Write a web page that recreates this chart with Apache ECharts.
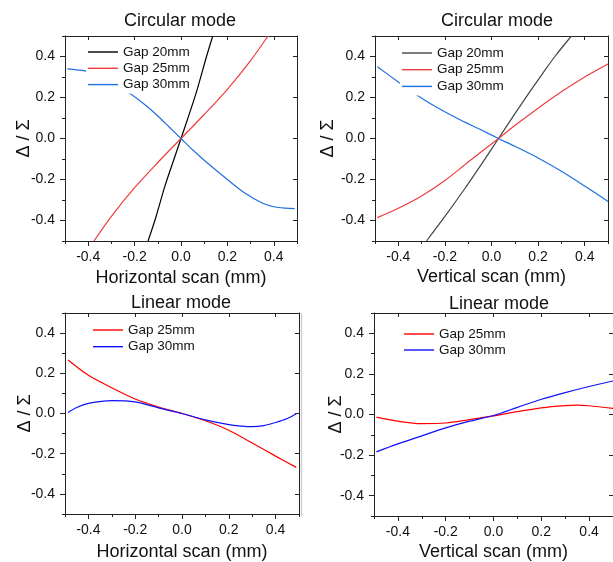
<!DOCTYPE html>
<html>
<head>
<meta charset="utf-8">
<script src="https://cdn.jsdelivr.net/npm/echarts@6/dist/echarts.min.js"></script>
<style>
html,body{margin:0;padding:0;background:#fff;}
#chart{width:613px;height:562px;}
</style>
</head>
<body>
<div id="chart"></div>
<script>
// ---- tick values ----
const majorTicks = [-0.4, -0.2, 0, 0.2, 0.4];
const minorTicks = [-0.5, -0.3, -0.1, 0.1, 0.3, 0.5];

// ---- Circular mode, horizontal scan ----
const circH_gap20 = [[-0.142,-0.5],[-0.11,-0.39],[-0.07,-0.235],[-0.03,-0.1],[0,0],[0.03,0.1],[0.07,0.24],[0.11,0.4],[0.137,0.5]];
const circH_gap25 = [[-0.375,-0.5],[-0.3,-0.38],[-0.2,-0.24],[-0.1,-0.117],[0,0],[0.1,0.117],[0.2,0.24],[0.3,0.38],[0.375,0.5]];
const circH_gap30 = [[-0.49,0.34],[-0.45,0.335],[-0.414,0.33],[-0.35,0.3],[-0.3,0.27],[-0.231,0.228],[-0.15,0.16],[-0.1,0.11],[-0.05,0.055],[0,0],[0.05,-0.055],[0.1,-0.106],[0.2,-0.2],[0.28,-0.27],[0.35,-0.315],[0.4,-0.333],[0.45,-0.34],[0.49,-0.342]];

// ---- Circular mode, vertical scan ----
const circV_gap20 = [[-0.279,-0.5],[-0.2,-0.38],[-0.115,-0.245],[-0.04,-0.12],[0.03,0],[0.1,0.12],[0.167,0.232],[0.22,0.318],[0.272,0.4],[0.343,0.5]];
const circV_gap25 = [[-0.49,-0.386],[-0.4,-0.34],[-0.3,-0.28],[-0.2,-0.205],[-0.1,-0.115],[0.03,0],[0.1,0.063],[0.2,0.148],[0.3,0.228],[0.4,0.3],[0.5,0.363]];
const circV_gap30 = [[-0.49,0.35],[-0.4,0.276],[-0.33,0.22],[-0.25,0.162],[-0.15,0.1],[-0.05,0.045],[0.03,0],[0.1,-0.038],[0.2,-0.095],[0.3,-0.16],[0.4,-0.232],[0.5,-0.307]];

// ---- Linear mode, horizontal scan ----
const linH_gap25 = [[-0.487,0.266],[-0.4,0.19],[-0.3,0.128],[-0.2,0.072],[-0.1,0.032],[0,0],[0.1,-0.036],[0.2,-0.083],[0.3,-0.147],[0.4,-0.212],[0.488,-0.268]];
const linH_gap30 = [[-0.487,0.005],[-0.45,0.03],[-0.4,0.05],[-0.3,0.064],[-0.2,0.058],[-0.1,0.028],[0,0],[0.1,-0.032],[0.2,-0.055],[0.3,-0.065],[0.35,-0.06],[0.4,-0.045],[0.45,-0.025],[0.49,0]];

// ---- Linear mode, vertical scan ----
const linV_gap25 = [[-0.49,-0.013],[-0.4,-0.033],[-0.3,-0.045],[-0.2,-0.042],[-0.1,-0.025],[0,-0.007],[0.1,0.014],[0.2,0.033],[0.3,0.044],[0.35,0.046],[0.4,0.043],[0.5,0.03]];
const linV_gap30 = [[-0.49,-0.184],[-0.4,-0.145],[-0.3,-0.105],[-0.2,-0.066],[-0.1,-0.033],[0,-0.005],[0.1,0.035],[0.2,0.075],[0.3,0.108],[0.4,0.138],[0.5,0.165]];

const FONT = "'Liberation Sans', Arial, sans-serif";
const AXIS_COLOR = '#222';

const panels = [
  { title:'Circular mode', xName:'Horizontal scan (mm)', grid:{left:65, top:36, width:232, height:205},
    titleX:180, titleY:12, xNameGap:28, yNameGap:31.5,
    legend:{left:86, top:43, gap:2.3},
    series:[['Gap 20mm', circH_gap20, '#000000'], ['Gap 25mm', circH_gap25, '#f03c3c'], ['Gap 30mm', circH_gap30, '#1f70e0']] },
  { title:'Circular mode', xName:'Vertical scan (mm)', grid:{left:375, top:36, width:233, height:205},
    titleX:497, titleY:12, xNameGap:27, yNameGap:38,
    legend:{left:400, top:44, gap:2.7},
    series:[['Gap 20mm', circV_gap20, '#444444'], ['Gap 25mm', circV_gap25, '#f03c3c'], ['Gap 30mm', circV_gap30, '#1f70e0']] },
  { title:'Linear mode', xName:'Horizontal scan (mm)', grid:{left:65, top:313, width:234, height:204},
    titleX:181, titleY:294, xNameGap:29, yNameGap:31,
    legend:{left:91, top:321, gap:2.7},
    series:[['Gap 25mm', linH_gap25, '#ff0000'], ['Gap 30mm', linH_gap30, '#1010ff']] },
  { title:'Linear mode', xName:'Vertical scan (mm)', grid:{left:374, top:313, width:239, height:204},
    titleX:499, titleY:295, xNameGap:27, yNameGap:28.5,
    legend:{left:402, top:325, gap:2},
    series:[['Gap 25mm', linV_gap25, '#ff0000'], ['Gap 30mm', linV_gap30, '#1010ff']] }
];

const option = { animation:false, backgroundColor:'#fff', textStyle:{fontFamily:FONT},
  title:[], grid:[], xAxis:[], yAxis:[], legend:[], series:[], graphic:[] };

const fmt = v => v.toFixed(1);

panels.forEach((p, i) => {
  option.grid.push(Object.assign({containLabel:false}, p.grid));
  option.title.push({ text:p.title, left:p.titleX, top:p.titleY, textAlign:'center', padding:0,
    textStyle:{fontFamily:FONT, fontSize:18, fontWeight:'normal', color:'#111'} });

  const base = { gridIndex:i, type:'value', min:-0.5, max:0.5, interval:0.1, splitLine:{show:false} };
  const xMainIdx = option.xAxis.length;
  option.xAxis.push(Object.assign({}, base, {
    position:'bottom', name:p.xName, nameLocation:'middle', nameGap:p.xNameGap, nameMoveOverlap:false,
    nameTextStyle:{fontFamily:FONT, fontSize:18, color:'#111'},
    axisLine:{show:true, onZero:false, lineStyle:{color:AXIS_COLOR, width:1}},
    axisTick:{show:true, inside:false, length:5, customValues:majorTicks, lineStyle:{color:AXIS_COLOR}},
    axisLabel:{show:true, customValues:majorTicks, formatter:fmt, margin:9, fontFamily:FONT, fontSize:14, color:'#111'}
  }));
  option.xAxis.push(Object.assign({}, base, { position:'bottom',
    axisLine:{show:false, onZero:false}, axisLabel:{show:false},
    axisTick:{show:true, inside:false, length:3, customValues:minorTicks, lineStyle:{color:AXIS_COLOR}} }));
  option.xAxis.push(Object.assign({}, base, { position:'top',
    axisLine:{show:true, onZero:false, lineStyle:{color:AXIS_COLOR, width:1}}, axisLabel:{show:false},
    axisTick:{show:true, inside:true, length:4, customValues:majorTicks, lineStyle:{color:AXIS_COLOR}} }));

  const yMainIdx = option.yAxis.length;
  option.yAxis.push(Object.assign({}, base, {
    position:'left', name:'Δ / Σ', nameLocation:'middle', nameGap:p.yNameGap, nameMoveOverlap:false,
    nameTextStyle:{fontFamily:FONT, fontSize:18, color:'#111'},
    axisLine:{show:true, onZero:false, lineStyle:{color:AXIS_COLOR, width:1}},
    axisTick:{show:true, inside:false, length:5, customValues:majorTicks, lineStyle:{color:AXIS_COLOR}},
    axisLabel:{show:true, customValues:majorTicks, formatter:fmt, margin:10, fontFamily:FONT, fontSize:14, color:'#111'}
  }));
  option.yAxis.push(Object.assign({}, base, { position:'left',
    axisLine:{show:false, onZero:false}, axisLabel:{show:false},
    axisTick:{show:true, inside:false, length:3, customValues:minorTicks, lineStyle:{color:AXIS_COLOR}} }));
  option.yAxis.push(Object.assign({}, base, { position:'right',
    axisLine:{show:true, onZero:false, lineStyle:{color:AXIS_COLOR, width:1}}, axisLabel:{show:false},
    axisTick:{show:true, inside:true, length:4, customValues:majorTicks, lineStyle:{color:AXIS_COLOR}} }));

  const names = [];
  p.series.forEach(([name, data, color]) => {
    const full = 'P' + i + '|' + name;
    names.push(full);
    option.series.push({ type:'line', name:full, xAxisIndex:xMainIdx, yAxisIndex:yMainIdx,
      data:data, smooth:0.3, symbol:'none', clip:true, z:2,
      lineStyle:{color:color, width:1.2}, itemStyle:{color:color} });
  });
  option.legend.push({ data:names, orient:'vertical', left:p.legend.left, top:p.legend.top,
    padding:[2,2,2,2], itemGap:p.legend.gap, itemWidth:30, itemHeight:1.4, icon:'rect', selectedMode:false,
    backgroundColor:'#ffffff', z:5,
    formatter: n => n.split('|')[1],
    textStyle:{fontFamily:FONT, fontSize:13.5, color:'#111', height:14, lineHeight:14} });
});

// faint panel separator visible in the reference
option.graphic.push({ type:'line', shape:{x1:301.5, y1:313, x2:301.5, y2:516}, style:{stroke:'#d0d0d0', lineWidth:1.5}, silent:true });

const chart = echarts.init(document.getElementById('chart'), null, {renderer:'canvas'});
chart.setOption(option);
</script>
</body>
</html>
